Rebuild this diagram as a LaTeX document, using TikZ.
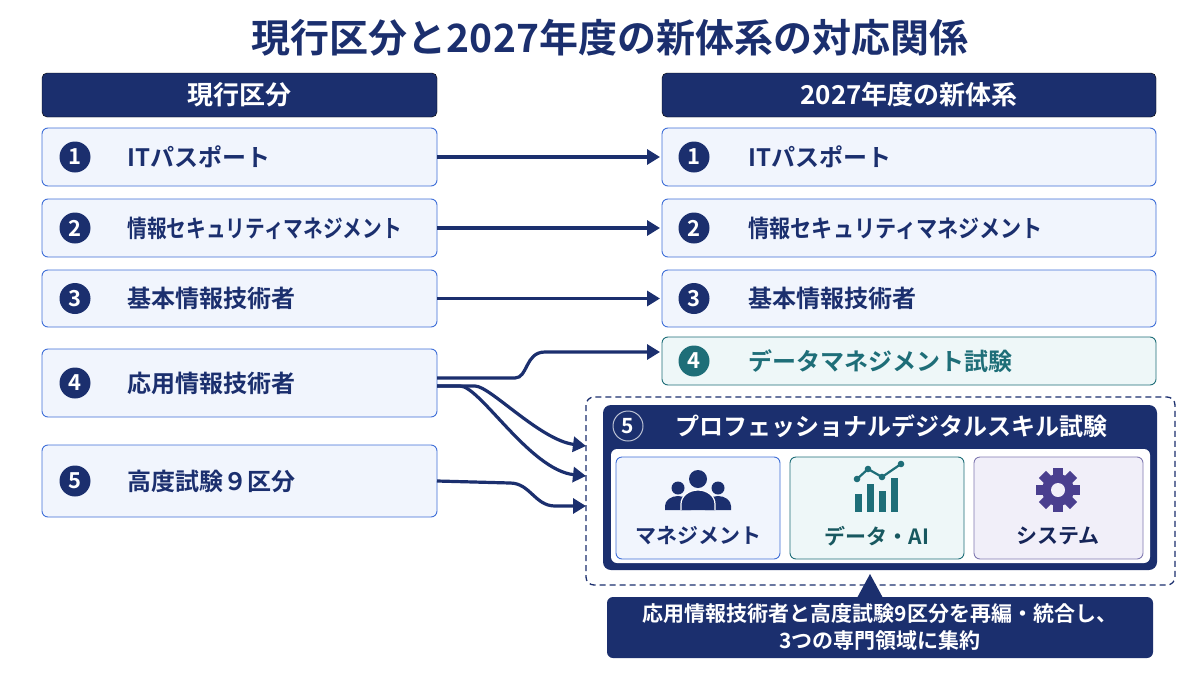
\documentclass[tikz,border=0pt]{standalone}
\usepackage{fontspec}
\setmainfont{Noto Sans CJK JP Bold}
\usetikzlibrary{arrows.meta}
\definecolor{navy}{HTML}{1B2F6E}
\definecolor{bfill}{HTML}{F1F5FD}
\definecolor{bline}{HTML}{3F6FD8}
\definecolor{teal}{HTML}{1E6E78}
\definecolor{tfill}{HTML}{EEF7F8}
\definecolor{pur}{HTML}{4A3F8F}
\definecolor{pfill}{HTML}{F1EFF9}
\begin{document}
\begin{tikzpicture}[x=1pt,y=-1pt,
  hdr/.style={fill=navy,rounded corners=5pt},
  itm/.style={draw=bline,fill=bfill,rounded corners=6pt,line width=0.9pt},
  num/.style={circle,fill=navy,text=white,inner sep=0pt,minimum size=31pt,font=\fontsize{22}{22}\selectfont},
  lab/.style={anchor=west,text=navy,font=\fontsize{24}{26}\selectfont},
  arr/.style={draw=navy,line width=3.2pt,-{Triangle[length=13pt,width=15pt]}},
  sub/.style={rounded corners=6pt,line width=0.9pt}]
\useasboundingbox (0,0) rectangle (1200,675);
\fill[white] (0,0) rectangle (1200,675);
\node[text=navy,font=\fontsize{39}{42}\selectfont] (title) at (610,38) {現行区分と2027年度の新体系の対応関係};
\draw[hdr] (42,73) rectangle (437,117);
\node[text=white,font=\fontsize{26}{28}\selectfont] (hl) at (239.5,95) {現行区分};
\draw[hdr] (662,73) rectangle (1156,117);
\node[text=white,font=\fontsize{26}{28}\selectfont] (hr) at (909,95) {2027年度の新体系};
% left boxes
\foreach \n/\ya/\yb/\t in {1/128/186/ITパスポート,2/199/257/\scalebox{0.82}[1]{情報セキュリティマネジメント},3/270/327/基本情報技術者,4/349/417/応用情報技術者,5/445/517/高度試験９区分}{
  \draw[itm] (42,\ya) rectangle (437,\yb);
  \node[num] (ln\n) at (75,{(\ya+\yb)/2}) {\n};
  \node[lab] (lt\n) at (124,{(\ya+\yb)/2}) {\t};
  \coordinate (L\n) at (437,{(\ya+\yb)/2});
}
\foreach \n/\ya/\yb/\t in {1/128/186/ITパスポート,2/199/257/\scalebox{0.88}[1]{情報セキュリティマネジメント},3/270/327/基本情報技術者}{
  \draw[itm] (662,\ya) rectangle (1156,\yb);
  \node[num] (rn\n) at (694,{(\ya+\yb)/2}) {\n};
  \node[lab] (rt\n) at (745,{(\ya+\yb)/2}) {\t};
  \coordinate (R\n) at (660,{(\ya+\yb)/2});
  \draw[arr] (L\n) -- (R\n);
}
\draw[draw=teal,fill=tfill,rounded corners=6pt,line width=0.9pt] (662,337) rectangle (1156,385);
\node[num,fill=teal] (rn4) at (694,361) {4};
\node[lab,text=teal] (rt4) at (745,361) {データマネジメント試験};
\coordinate (R4) at (660,352);
% dashed group
\draw[navy,line width=1.3pt,dash pattern=on 6pt off 4pt,rounded corners=8pt] (586,397) rectangle (1175,585);
\fill[navy,rounded corners=8pt] (603,405) rectangle (1157,570);
\node[circle,draw=white!70!navy,fill=navy,text=white,line width=1pt,inner sep=0pt,minimum size=30pt,font=\fontsize{21}{21}\selectfont] (n5) at (628,426) {5};
\node[anchor=west,text=white,font=\fontsize{24}{26}\selectfont] (t5) at (672,426) {プロフェッショナルデジタルスキル試験};
\fill[white,rounded corners=6pt] (611,449) rectangle (1150,563);
\draw[sub,draw=bline,fill=bfill] (616,457) rectangle (780,559);
\draw[sub,draw=teal,fill=tfill] (790,457) rectangle (964,559);
\draw[sub,draw=pur!70,fill=pfill] (974,457) rectangle (1143,559);
\node[text=navy,font=\fontsize{21}{24}\selectfont] (s1) at (698,536) {マネジメント};
\node[text=teal!80!black,font=\fontsize{21}{24}\selectfont] (s2) at (877,536) {データ・AI};
\node[text=navy!80!black,font=\fontsize{21}{24}\selectfont] (s3) at (1058,536) {システム};
% people icon
\fill[navy] (698,479) circle (9);
\fill[navy] (678,488) circle (6.5);
\fill[navy] (718,488) circle (6.5);
\fill[navy] (665,510) -- (665,506) arc (180:360:13 and 10) -- (691,510) -- cycle;
\fill[navy] (705,510) -- (705,506) arc (180:360:13 and 10) -- (731,510) -- cycle;
\fill[navy] (681,510) -- (681,504) arc (180:360:17 and 14) -- (715,510) -- cycle;
\draw[white,line width=1.2pt] (681,510) -- (681,504) arc (180:360:17 and 14) -- (715,510);
% chart icon
\fill[teal] (855,494) rectangle (862,512);
\fill[teal] (867,484) rectangle (874,512);
\fill[teal] (879,491) rectangle (886,512);
\fill[teal] (891,478) rectangle (898,512);
\draw[teal,line width=2.2pt] (857,479) -- (868,469) -- (882,477) -- (901,464);
\foreach \p in {(857,479),(868,469),(882,477),(901,464)} \fill[teal] \p circle (3.3);
% gear icon
\begin{scope}[shift={(1058,490)}]
\fill[pur] (0,0) circle (16);
\foreach \a in {0,45,...,315} \fill[pur,rotate=\a] (-5,-22) rectangle (5,-12);
\fill[pfill] (0,0) circle (7);
\end{scope}
% callout
\fill[navy,rounded corners=6pt] (607,597) rectangle (1153,658);
\fill[navy] (857,598) -- (870,574) -- (883,598) -- cycle;
\node[text=white,align=center,font=\fontsize{21}{27}\selectfont] (co) at (880,627) {応用情報技術者と高度試験9区分を再編・統合し、\\3つの専門領域に集約};
% curved arrows
\coordinate (A4a) at (437,378);
\coordinate (A4b) at (437,386);
\coordinate (T1) at (586,446);
\coordinate (T2) at (586,476);
\coordinate (T3) at (586,506);
\draw[arr] (A4a) -- (515,378) .. controls (528,378) and (525,352) .. (545,352) -- (R4);
\draw[arr] (A4b) -- (475,386) .. controls (490,386) and (540,440) .. (T1);
\draw[arr] (A4b) -- (460,386) .. controls (480,386) and (530,470) .. (T2);
\draw[arr] (L5) -- (510,483) .. controls (530,483) and (535,506) .. (555,506) -- (T3);
\end{tikzpicture}
\end{document}
